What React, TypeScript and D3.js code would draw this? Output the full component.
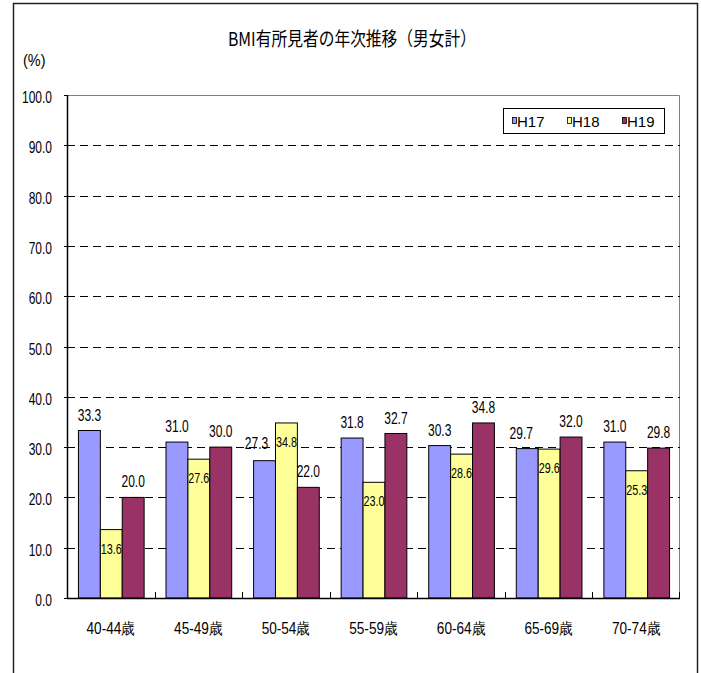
import React, { useEffect } from "react";
import * as d3 from "d3";

// Age groups and yearly rates (%) of BMI findings
const categories = ["40-44歳", "45-49歳", "50-54歳", "55-59歳", "60-64歳", "65-69歳", "70-74歳"];
const seriesNames = ["H17", "H18", "H19"];
const h17 = [33.3, 31.0, 27.3, 31.8, 30.3, 29.7, 31.0];
const h18 = [13.6, 27.6, 34.8, 23.0, 28.6, 29.6, 25.3];
const h19 = [20.0, 30.0, 22.0, 32.7, 34.8, 32.0, 29.8];
const yTicks = [0, 10, 20, 30, 40, 50, 60, 70, 80, 90, 100];

const colors = ["#9999FF", "#FFFF99", "#993366"];
const series = [h17, h18, h19];

// labels moved aside where they would collide with a neighbour ("category|series" -> [dx, dy])
const labelNudge: Record<string, [number, number]> = {
  "50-54歳|H17": [-8, -2],
  "65-69歳|H17": [-6, 0],
};

const W = 701;
const H = 673;
const plot = { left: 67, right: 680, top: 95, bottom: 598 };
const sans = "'Liberation Sans', Arial, sans-serif";

// Condensed text: horizontally squeezed sans
function NText({
  x,
  y,
  anchor = "middle",
  size = 16,
  squeeze = 0.75,
  children,
}: {
  x: number;
  y: number;
  anchor?: "start" | "middle" | "end";
  size?: number;
  squeeze?: number;
  children: React.ReactNode;
}) {
  return (
    <text
      transform={`translate(${x},${y}) scale(${squeeze},1)`}
      textAnchor={anchor}
      fontFamily={sans}
      fontSize={size}
      fill="#000"
    >
      {children}
    </text>
  );
}

export default function App() {
  useEffect(() => {
    document.body.style.margin = "0";
  }, []);

  const x0 = d3
    .scaleBand<string>()
    .domain(categories)
    .range([plot.left, plot.right])
    .paddingInner(0)
    .paddingOuter(0);
  const groupWidth = x0.bandwidth() * 0.75;
  const x1 = d3
    .scaleBand<string>()
    .domain(seriesNames)
    .range([(x0.bandwidth() - groupWidth) / 2, (x0.bandwidth() + groupWidth) / 2])
    .padding(0);
  const y = d3.scaleLinear().domain([0, 100]).range([plot.bottom, plot.top]);

  return (
    <svg width={W} height={H} style={{ display: "block", background: "#fff" }}>
      {/* outer frame */}
      <path d={`M13.5,${H} V3.5 H697.5 V${H}`} fill="none" stroke="#222" strokeWidth={1.5} />

      {/* title */}
      <text
        x={352}
        y={46}
        textAnchor="middle"
        fontFamily="'Noto Sans CJK JP', sans-serif"
        fontSize={19}
        textLength={248}
        lengthAdjust="spacingAndGlyphs"
        fill="#000"
      >
        BMI有所見者の年次推移（男女計）
      </text>
      <NText x={23} y={66} anchor="start" size={17} squeeze={0.85}>
        (%)
      </NText>

      {/* plot border (top/right) */}
      <path
        d={`M${plot.left},${plot.top + 0.5} H${plot.right - 0.5} V${plot.bottom}`}
        fill="none"
        stroke="#808080"
        strokeWidth={1}
      />

      {/* gridlines */}
      {yTicks
        .filter((t) => t > 0 && t < 100)
        .map((t) => (
          <line
            key={t}
            x1={plot.left}
            x2={plot.right}
            y1={Math.round(y(t)) + 0.5}
            y2={Math.round(y(t)) + 0.5}
            stroke="#000"
            strokeDasharray="8,5"
            strokeWidth={1}
          />
        ))}

      {/* y ticks and labels */}
      {yTicks.map((t) => (
        <g key={t}>
          <line
            x1={plot.left - 3}
            x2={plot.left}
            y1={Math.round(y(t)) + 0.5}
            y2={Math.round(y(t)) + 0.5}
            stroke="#000"
          />
          <NText x={52} y={y(t) + 8} anchor="end">
            {t.toFixed(1)}
          </NText>
        </g>
      ))}

      {/* bars */}
      {categories.map((c, ci) => (
        <g key={c} transform={`translate(${x0(c)},0)`}>
          {seriesNames.map((s, si) => {
            const v = series[si][ci];
            const bx = x1(s)!;
            const top = y(v);
            return (
              <rect
                key={s}
                x={bx + 0.5}
                y={top}
                width={x1.bandwidth()}
                height={plot.bottom - top}
                fill={colors[si]}
                stroke="#000"
                strokeWidth={1}
              />
            );
          })}
        </g>
      ))}

      {/* data labels */}
      {categories.map((c, ci) => (
        <g key={c} transform={`translate(${x0(c)},0)`}>
          {seriesNames.map((s, si) => {
            const v = series[si][ci];
            const [dx, dy] = labelNudge[`${c}|${s}`] ?? [0, 0];
            const cx = x1(s)! + x1.bandwidth() / 2 + 0.5 + dx;
            const inside = si === 1;
            return (
              <NText
                key={s}
                x={cx}
                y={(inside ? y(v) + 24 : y(v) - 10) + dy}
                size={inside ? 15 : 16}
                squeeze={inside ? 0.72 : 0.75}
              >
                {v.toFixed(1)}
              </NText>
            );
          })}
        </g>
      ))}

      {/* axes */}
      <line x1={plot.left + 0.5} x2={plot.left + 0.5} y1={plot.top} y2={plot.bottom} stroke="#000" strokeWidth={1.5} />
      <line x1={plot.left} x2={plot.right} y1={plot.bottom + 0.5} y2={plot.bottom + 0.5} stroke="#000" strokeWidth={1.5} />
      {categories.map((c) => (
        <line
          key={c}
          x1={Math.round(x0(c)!) + 0.5}
          x2={Math.round(x0(c)!) + 0.5}
          y1={plot.bottom - 6}
          y2={plot.bottom}
          stroke="#000"
        />
      ))}
      <line x1={plot.right - 0.5} x2={plot.right - 0.5} y1={plot.bottom - 6} y2={plot.bottom} stroke="#000" />

      {/* category labels */}
      {categories.map((c) => (
        <NText key={c} x={x0(c)! + x0.bandwidth() / 2} y={634} size={16} squeeze={0.85}>
          {c}
        </NText>
      ))}

      {/* legend */}
      <g>
        <rect x={503.5} y={108.5} width={161} height={25} fill="#fff" stroke="#000" strokeWidth={1} />
        {seriesNames.map((s, i) => {
          const lx = 512 + i * 55;
          return (
            <g key={s}>
              <rect x={lx + 0.5} y={117.5} width={4} height={6} fill={colors[i]} stroke="#000" strokeWidth={0.8} />
              <text x={lx + 5} y={127} fontFamily={sans} fontSize={15} fill="#000">
                {s}
              </text>
            </g>
          );
        })}
      </g>
    </svg>
  );
}
